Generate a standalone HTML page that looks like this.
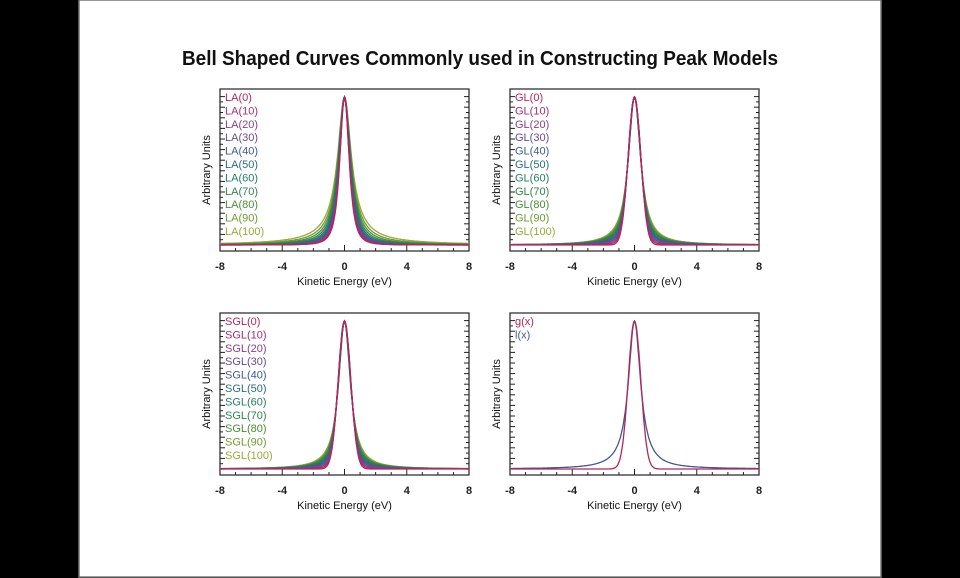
<!DOCTYPE html>
<html><head><meta charset="utf-8"><style>
html,body{margin:0;padding:0;background:#000;}
svg{display:block;font-family:"Liberation Sans",sans-serif;}
</style></head><body>
<svg id="pg" width="960" height="578" viewBox="0 0 960 578">
<rect x="0" y="0" width="960" height="578" fill="#000"/>
<rect x="79" y="0" width="802" height="577" fill="#fff" stroke="#777" stroke-width="1.5"/>
<text x="480" y="65" text-anchor="middle" font-size="20" font-weight="bold" textLength="596" lengthAdjust="spacingAndGlyphs" fill="#111">Bell Shaped Curves Commonly used in Constructing Peak Models</text>
<g id="charts"></g>
</svg>
<script>
// x domain and ticks
const xTicks = [-8, -4, 0, 4, 8];
const mixLevels = [0, 10, 20, 30, 40, 50, 60, 70, 80, 90, 100];
const seriesColors = ["#b5245a","#a42f70","#8a3f86","#6a4a90","#3f5a8f","#2a6e80","#287a66","#2f8450","#4a8c3a","#6e9a30","#9aa83a"];
const panelNames = ["LA", "GL", "SGL"];
const pairLabels = ["g(x)", "l(x)"];
const pairColors = ["#b5245a", "#3f5a8f"];
const fwhm = 0.95;

const NS = "http://www.w3.org/2000/svg";
const root = document.getElementById("charts");
function mk(tag, attrs, parent) {
  const e = document.createElementNS(NS, tag);
  for (const k in attrs) e.setAttribute(k, attrs[k]);
  (parent || root).appendChild(e);
  return e;
}
function gauss(x){ return Math.exp(-4*Math.LN2*x*x/(fwhm*fwhm)); }
function lor(x){ return 1/(1+4*x*x/(fwhm*fwhm)); }
function shape(kind, m, x) {
  const f = m/100;
  if (kind === "LA") { const l = lor(x); return Math.pow(l, 1.6 - 0.8*f); }
  if (kind === "GL") return (1-f)*gauss(x) + f*lor(x);
  if (kind === "SGL") return (1-f)*gauss(x) + f*lor(x*1.05);
  return 0;
}

const panels = [
  {x0:220, y0:89, kind:"LA"},
  {x0:510, y0:89, kind:"GL"},
  {x0:220, y0:313, kind:"SGL"},
  {x0:510, y0:313, kind:"PAIR"}
];
panels.forEach((p, pi) => {
  const W = 249, H = 162;
  const g = mk("g", {});
  
  
  const xs = v => p.x0 + (v + 8) / 16 * W;
  const ys = v => p.y0 + 156 - v * 148;
  const fr = mk("rect", {x:p.x0, y:p.y0, width:W, height:H, fill:"none", stroke:"#222", "stroke-width":1.2}, g);
  
  
  for (let i = 0; i <= 28; i++) {
    const y = p.y0 + 156 - i * 5.3;
    if (y < p.y0 + 2) break;
    const len = i % 2 === 0 ? 5 : 3;
    mk("line", {x1:p.x0, x2:p.x0+len, y1:y, y2:y, stroke:"#222", "stroke-width":1}, g);
    mk("line", {x1:p.x0+W, x2:p.x0+W-len, y1:y, y2:y, stroke:"#222", "stroke-width":1}, g);
  }
  for (let v = -8; v <= 8; v++) {
    const len = v % 4 === 0 ? 6 : 3;
    mk("line", {x1:xs(v), x2:xs(v), y1:p.y0+H, y2:p.y0+H-len, stroke:"#222", "stroke-width":1}, g);
  }
  xTicks.forEach(v => {
    const t = mk("text", {x:xs(v), y:p.y0+H+19, "text-anchor":"middle", "font-size":11, "font-weight":"bold", fill:"#222"}, g);
    t.textContent = String(v);
    
    
  });
  const xt = mk("text", {x:p.x0+W/2, y:p.y0+H+34, "text-anchor":"middle", "font-size":11, fill:"#111"}, g);
  xt.textContent = "Kinetic Energy (eV)";
  
  
  const yt = mk("text", {x:0, y:0, "text-anchor":"middle", "font-size":11, fill:"#111", transform:`translate(${p.x0-10},${p.y0+H/2}) rotate(-90)`}, g);
  yt.textContent = "Arbitrary Units";
  
  

  const curves = [];
  if (p.kind === "PAIR") {
    curves.push({c:pairColors[1], f:x=>lor(x), label:pairLabels[1]});
    curves.push({c:pairColors[0], f:x=>gauss(x), label:pairLabels[0]});
  } else {
    for (let i = mixLevels.length - 1; i >= 0; i--) {
      const m = mixLevels[i];
      curves.push({c:seriesColors[i], f:x=>shape(p.kind, m, x)});
    }
  }
  curves.forEach(cv => {
    let d = "";
    for (let k = 0; k <= 400; k++) {
      const x = -8 + 16 * k / 400;
      d += (k ? "L" : "M") + xs(x).toFixed(1) + "," + ys(cv.f(x)).toFixed(1);
    }
    const path = mk("path", {d:d, fill:"none", stroke:cv.c, "stroke-width":1.3}, g);
    
    
  });
  const labels = p.kind === "PAIR" ? pairLabels : mixLevels.map(m => p.kind + "(" + m + ")");
  const cols = p.kind === "PAIR" ? pairColors : seriesColors;
  labels.forEach((lb, i) => {
    const t = mk("text", {x:p.x0+5, y:p.y0+12+i*13.4, "font-size":11, fill:cols[i]}, g);
    t.textContent = lb;
    
    
  });
});
</script>
</body></html>
